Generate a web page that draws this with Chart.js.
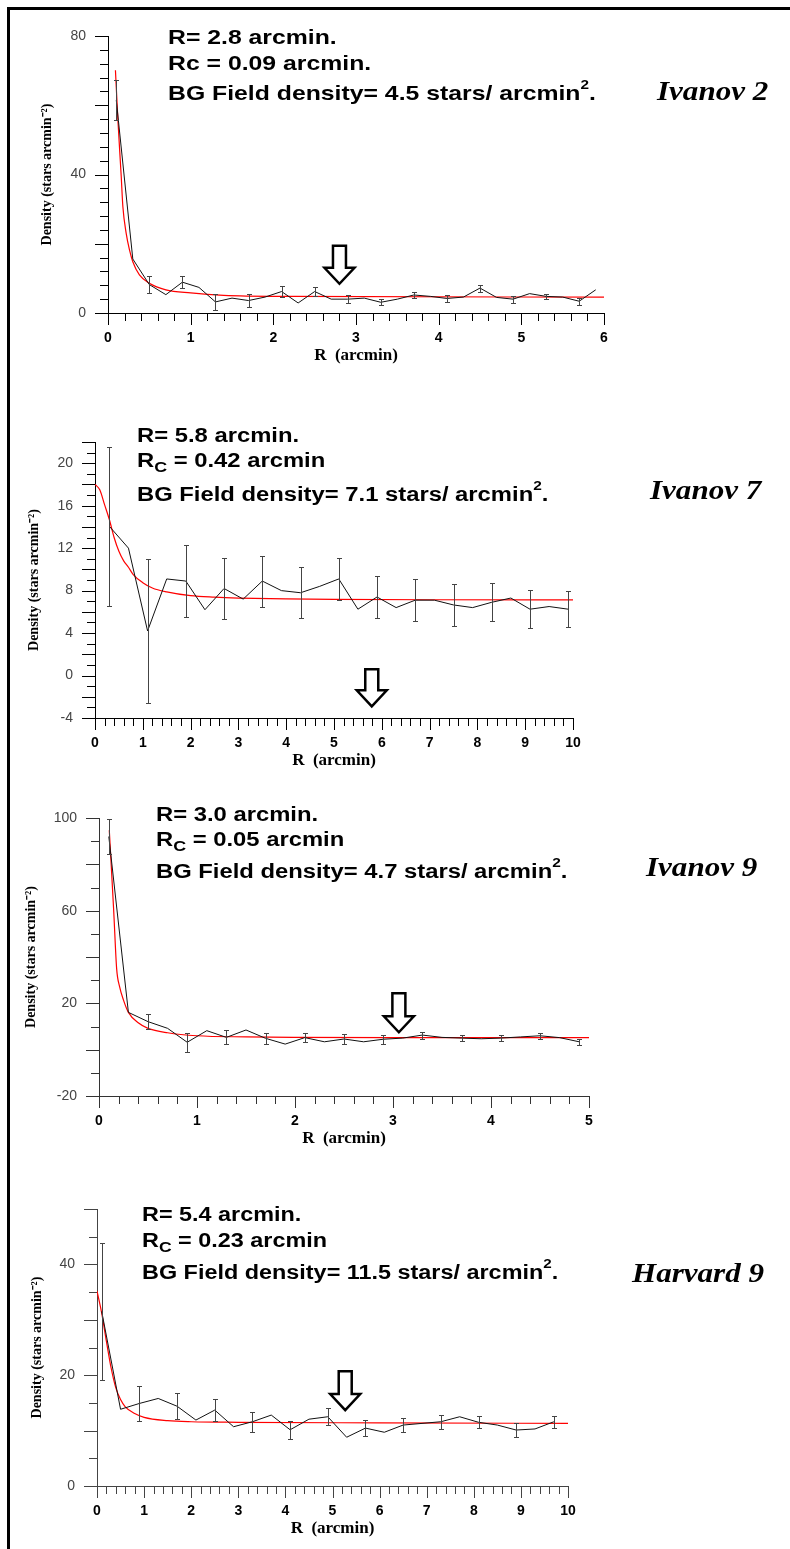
<!DOCTYPE html>
<html>
<head>
<meta charset="utf-8">
<script src="https://cdn.jsdelivr.net/npm/chart.js"></script>
<style>
body { margin:0; background:#fff; width:790px; height:1549px; position:relative; overflow:hidden; font-family:"Liberation Sans", Arial, sans-serif; }
canvas { position:absolute; left:0; }
.frameL { position:absolute; left:7px; top:7px; width:3px; height:1542px; background:#000; }
.frameT { position:absolute; left:7px; top:7px; width:783px; height:3px; background:#000; }
.t { position:absolute; font-weight:bold; line-height:1; white-space:nowrap; transform-origin:0 0; color:#000; z-index:2; }
.sup { font-size:13px; position:relative; top:-11px; }
.sub { font-size:15px; position:relative; top:5px; }
.name { position:absolute; font-family:"Liberation Serif", "Times New Roman", serif; font-weight:bold; font-style:italic; font-size:27px; line-height:1; white-space:nowrap; transform:scaleX(1.15); transform-origin:0 0; z-index:2; }
</style>
</head>
<body>
<div class="frameL"></div>
<div class="frameT"></div>

<canvas id="c1" width="640" height="373" style="top:0px"></canvas>
<canvas id="c2" width="640" height="372" style="top:406px"></canvas>
<canvas id="c3" width="640" height="374" style="top:782px"></canvas>
<canvas id="c4" width="640" height="373" style="top:1173px"></canvas>

<!-- Ivanov 2 -->
<div class="t" style="left:168px;top:26.3px;font-size:21px;transform:scaleX(1.18)">R= 2.8 arcmin.</div>
<div class="t" style="left:168px;top:51.5px;font-size:21px;transform:scaleX(1.18)">Rc = 0.09 arcmin.</div>
<div class="t" style="left:168px;top:82.3px;font-size:21px;transform:scaleX(1.18)">BG Field density= 4.5 stars/ arcmin<span class="sup">2</span>.</div>
<div class="name" style="left:657px;top:78.4px">Ivanov 2</div>

<!-- Ivanov 7 -->
<div class="t" style="left:137px;top:425.4px;font-size:20px;transform:scaleX(1.19)">R= 5.8 arcmin.</div>
<div class="t" style="left:137px;top:450.4px;font-size:20px;transform:scaleX(1.19)">R<span class="sub">C</span> = 0.42 arcmin</div>
<div class="t" style="left:137px;top:484.4px;font-size:20px;transform:scaleX(1.19)">BG Field density= 7.1 stars/ arcmin<span class="sup">2</span>.</div>
<div class="name" style="left:650px;top:477.4px">Ivanov 7</div>

<!-- Ivanov 9 -->
<div class="t" style="left:156px;top:804.4px;font-size:20px;transform:scaleX(1.19)">R= 3.0 arcmin.</div>
<div class="t" style="left:156px;top:829.4px;font-size:20px;transform:scaleX(1.19)">R<span class="sub">C</span> = 0.05 arcmin</div>
<div class="t" style="left:156px;top:861.4px;font-size:20px;transform:scaleX(1.19)">BG Field density= 4.7 stars/ arcmin<span class="sup">2</span>.</div>
<div class="name" style="left:646px;top:854.4px">Ivanov 9</div>

<!-- Harvard 9 -->
<div class="t" style="left:142px;top:1204.4px;font-size:20px;transform:scaleX(1.17)">R= 5.4 arcmin.</div>
<div class="t" style="left:142px;top:1230.4px;font-size:20px;transform:scaleX(1.17)">R<span class="sub">C</span> = 0.23 arcmin</div>
<div class="t" style="left:142px;top:1262.4px;font-size:20px;transform:scaleX(1.17)">BG Field density= 11.5 stars/ arcmin<span class="sup">2</span>.</div>
<div class="name" style="left:632px;top:1260.4px">Harvard 9</div>

<script>
// Ivanov 2 : radial density profile
var ivanov2_r = [0.1,0.3,0.5,0.7,0.9,1.1,1.3,1.5,1.7,1.9,2.1,2.3,2.5,2.7,2.9,3.1,3.3,3.5,3.7,3.9,4.1,4.3,4.5,4.7,4.9,5.1,5.3,5.5,5.7,5.9];
var ivanov2_density = [61.5,15.6,8.2,5.3,8.9,7.4,3.2,4.3,3.6,4.6,6.2,2.9,6.2,4.0,4.0,4.3,3.1,4.0,5.2,4.8,4.2,4.6,7.2,4.5,4.0,5.6,4.8,4.6,3.4,6.7];
var ivanov2_error = [5.7,null,2.5,null,1.7,null,2.3,null,1.9,null,1.5,null,1.3,null,1.2,null,0.9,null,0.9,null,1.0,null,1.0,null,1.0,null,0.8,null,1.0,null];
var ivanov2_fit_r = [0.09,0.12,0.16,0.18,0.22,0.26,0.3,0.38,0.5,0.7,1.0,1.4,2.2,6.0];
var ivanov2_fit = [70.1,55.7,39.4,30.7,23.0,18.2,14.8,11.0,8.6,6.7,5.8,5.1,4.8,4.6];
var ivanov2_arrow = [2.8, 19.4, 8.45]; // R, top, tip

// Ivanov 7
var ivanov7_r = [0.3,0.7,1.1,1.5,1.9,2.3,2.7,3.1,3.5,3.9,4.3,4.7,5.1,5.5,5.9,6.3,6.7,7.1,7.5,7.9,8.3,8.7,9.1,9.5,9.9];
var ivanov7_density = [14.06,12.0,4.2,9.1,8.9,6.2,8.2,7.2,8.9,8.0,7.8,8.4,9.1,6.25,7.4,6.4,7.1,7.1,6.65,6.4,6.9,7.3,6.25,6.5,6.25];
var ivanov7_error = [7.5,null,6.75,null,3.4,null,2.9,null,2.4,null,2.4,null,2.0,null,2.0,null,2.0,null,1.95,null,1.8,null,1.8,null,1.7];
var ivanov7_fit_r = [0,0.1,0.2,0.3,0.4,0.5,0.6,0.7,0.8,1.0,1.2,1.5,2.0,2.5,3,4,5,7,10];
var ivanov7_fit = [18.0,17.5,16.1,14.7,13.0,11.7,10.8,10.2,9.5,8.75,8.25,7.88,7.52,7.38,7.3,7.22,7.18,7.14,7.12];
var ivanov7_arrow = [5.79, 0.6, -2.9];

// Ivanov 9
var ivanov9_r = [0.1,0.3,0.5,0.7,0.9,1.1,1.3,1.5,1.7,1.9,2.1,2.3,2.5,2.7,2.9,3.1,3.3,3.5,3.7,3.9,4.1,4.3,4.5,4.7,4.9];
var ivanov9_density = [92,16.1,12.1,9.2,3.2,8.2,5.3,8.5,4.9,2.4,5.2,3.4,4.6,3.4,4.5,5.0,6.3,5.3,5.0,4.7,5.0,5.5,6.0,5.2,3.4];
var ivanov9_error = [7.5,null,3.2,null,4.2,null,3.0,null,2.5,null,2.0,null,2.0,null,2.0,null,1.5,null,1.4,null,1.4,null,1.3,null,1.3];
var ivanov9_fit_r = [0.105,0.15,0.18,0.21,0.25,0.3,0.4,0.5,0.7,1.0,1.5,2.0,3.0,5.0];
var ivanov9_fit = [94.7,60,35,27.2,21.4,16.1,11.6,9.2,7.3,6.0,5.5,5.3,5.2,5.2];
var ivanov9_arrow = [3.06, 24.3, 7.5];

// Harvard 9
var harvard9_r = [0.1,0.5,0.9,1.3,1.7,2.1,2.5,2.9,3.3,3.7,4.1,4.5,4.9,5.3,5.7,6.1,6.5,6.9,7.3,7.7,8.1,8.5,8.9,9.3,9.7];
var harvard9_density = [31.5,13.85,14.9,15.8,14.4,11.9,13.7,10.7,11.6,12.8,10.15,12.06,12.5,8.8,10.45,9.7,11.0,11.3,11.6,12.5,11.5,11.0,10.1,10.3,11.6];
var harvard9_error = [12.3,null,3.2,null,2.3,null,1.95,null,1.8,null,1.65,null,1.5,null,1.45,null,1.3,null,1.25,null,1.1,null,1.3,null,1.1];
var harvard9_fit_r = [0,0.1,0.2,0.3,0.4,0.5,0.6,0.8,1.0,1.5,2,3,6,10];
var harvard9_fit = [35.2,31.2,26.1,21.3,17.7,15.6,14.3,13.1,12.4,11.8,11.6,11.5,11.4,11.3];
var harvard9_arrow = [5.27, 20.7, 13.7];

// axes ranges / ticks
var xRanges = [[0,6],[0,10],[0,5],[0,10]];
var yRanges = [[0,80],[-4,22],[-20,100],[0,50]];
var yTickSteps = [4,1,10,5];
var yLabelSteps = [40,4,40,20];   // labelled ticks
var yLabelStart = [0,-4,-20,0];
var yMajorSteps = [20,2,20,10];   // long ticks

// layout of each canvas
var panels = [
  { id:'c1', yWidth:108, padRight:36, axis:'#000', yTitlePad:38.6,
    r:ivanov2_r, d:ivanov2_density, e:ivanov2_error, fr:ivanov2_fit_r, f:ivanov2_fit, arrow:ivanov2_arrow },
  { id:'c2', yWidth:95, padRight:67, axis:'#000', yTitlePad:25.6,
    r:ivanov7_r, d:ivanov7_density, e:ivanov7_error, fr:ivanov7_fit_r, f:ivanov7_fit, arrow:ivanov7_arrow },
  { id:'c3', yWidth:99, padRight:51, axis:'#333', yTitlePad:22.6,
    r:ivanov9_r, d:ivanov9_density, e:ivanov9_error, fr:ivanov9_fit_r, f:ivanov9_fit, arrow:ivanov9_arrow },
  { id:'c4', yWidth:97, padRight:72, axis:'#444', yTitlePad:28.6,
    r:harvard9_r, d:harvard9_density, e:harvard9_error, fr:harvard9_fit_r, f:harvard9_fit, arrow:harvard9_arrow }
];

function isMultiple(v, step, from) {
  var k = (v - (from || 0)) / step;
  return Math.abs(k - Math.round(k)) < 1e-6;
}

function toXY(xs, ys) {
  var out = [];
  for (var i = 0; i < xs.length; i++) out.push({ x: xs[i], y: ys[i] });
  return out;
}

// ticks, error bars and arrow drawn from the chart scales
function makeMarks(p, n) {
  return {
    id: 'marks',
    afterDraw: function (chart) {
      var ctx = chart.ctx, xs = chart.scales.x, ys = chart.scales.y, a = chart.chartArea;
      ctx.save();
      ctx.strokeStyle = p.axis;
      ctx.lineWidth = 1;
      ctx.beginPath();
      xs.ticks.forEach(function (t) {
        var px = Math.round(xs.getPixelForValue(t.value)) + 0.5;
        var len = isMultiple(t.value, 1) ? 12 : 8;
        ctx.moveTo(px, a.bottom); ctx.lineTo(px, a.bottom + len);
      });
      ys.ticks.forEach(function (t) {
        var py = Math.round(ys.getPixelForValue(t.value)) + 0.5;
        var len = isMultiple(t.value, yMajorSteps[n], yLabelStart[n]) ? 13 : 8;
        ctx.moveTo(a.left - len, py); ctx.lineTo(a.left, py);
      });
      ctx.stroke();

      // error bars
      ctx.strokeStyle = '#444';
      ctx.beginPath();
      for (var i = 0; i < p.r.length; i++) {
        if (p.e[i] == null) continue;
        var x = Math.round(xs.getPixelForValue(p.r[i])) + 0.5;
        var y1 = Math.round(ys.getPixelForValue(p.d[i] + p.e[i])) + 0.5;
        var y2 = Math.round(ys.getPixelForValue(p.d[i] - p.e[i])) + 0.5;
        ctx.moveTo(x, y1); ctx.lineTo(x, y2);
        ctx.moveTo(x - 2.5, y1); ctx.lineTo(x + 2.5, y1);
        ctx.moveTo(x - 2.5, y2); ctx.lineTo(x + 2.5, y2);
      }
      ctx.stroke();

      // arrow marking the cluster radius
      var ax = xs.getPixelForValue(p.arrow[0]);
      var top = ys.getPixelForValue(p.arrow[1]);
      var tip = ys.getPixelForValue(p.arrow[2]);
      var head = tip - 16;
      ctx.beginPath();
      ctx.moveTo(ax - 6.5, top);
      ctx.lineTo(ax + 6.5, top);
      ctx.lineTo(ax + 6.5, head);
      ctx.lineTo(ax + 15, head);
      ctx.lineTo(ax, tip);
      ctx.lineTo(ax - 15, head);
      ctx.lineTo(ax - 6.5, head);
      ctx.closePath();
      ctx.fillStyle = '#fff';
      ctx.fill();
      ctx.strokeStyle = '#000';
      ctx.lineWidth = 2.5;
      ctx.lineJoin = 'miter';
      ctx.stroke();
      ctx.restore();
    }
  };
}

panels.forEach(function (p, n) {
  new Chart(document.getElementById(p.id), {
    type: 'line',
    data: {
      datasets: [
        { data: toXY(p.r, p.d), borderColor: '#111', borderWidth: 1, pointRadius: 0, tension: 0 },
        { data: toXY(p.fr, p.f), borderColor: '#ff0000', borderWidth: 1.2, pointRadius: 0, cubicInterpolationMode: 'monotone' }
      ]
    },
    options: {
      responsive: false,
      animation: false,
      events: [],
      layout: { padding: { top: 36, right: p.padRight, bottom: 0, left: 0 } },
      plugins: { legend: { display: false }, tooltip: { enabled: false } },
      scales: {
        x: {
          type: 'linear', min: xRanges[n][0], max: xRanges[n][1],
          afterFit: function (s) { s.height = 60; },
          grid: { display: false, drawTicks: false },
          border: { display: true, color: p.axis, width: 1 },
          ticks: {
            stepSize: 0.2, autoSkip: false, maxRotation: 0, minRotation: 0, maxTicksLimit: 1000,
            padding: 17, color: '#000',
            font: { family: 'Liberation Sans', size: 14, weight: 'bold' },
            callback: function (v) { return isMultiple(v, 1) ? String(Math.round(v)) : ''; }
          },
          title: {
            display: true, text: 'R  (arcmin)', color: '#000',
            font: { family: 'Liberation Serif', size: 17, weight: 'bold' },
            padding: { top: 0, bottom: 6.8 }
          }
        },
        y: {
          type: 'linear', min: yRanges[n][0], max: yRanges[n][1],
          afterFit: function (s) { s.width = p.yWidth; },
          grid: { display: false, drawTicks: false },
          border: { display: true, color: p.axis, width: 1 },
          ticks: {
            stepSize: yTickSteps[n], autoSkip: false, maxTicksLimit: 1000,
            padding: 22, color: '#444',
            font: { family: 'Liberation Sans', size: 14 },
            callback: function (v) { return isMultiple(v, yLabelSteps[n], yLabelStart[n]) ? String(v) : ''; }
          },
          title: {
            display: true, text: 'Density (stars arcmin\u207B\u00B2)', color: '#000',
            font: { family: 'Liberation Serif', size: 14, weight: 'bold' },
            padding: { top: p.yTitlePad, bottom: 0 }
          }
        }
      }
    },
    plugins: [makeMarks(p, n)]
  });
});
</script>
</body>
</html>
